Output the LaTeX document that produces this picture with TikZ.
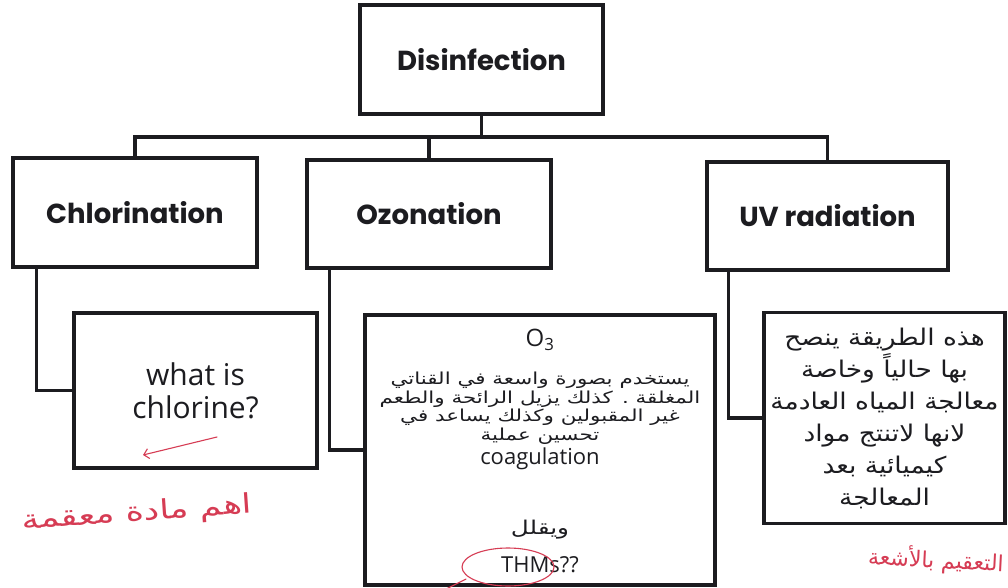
\documentclass[tikz,border=0pt]{standalone}
\usepackage{fontspec}
\setmainfont{Open Sans}
\newfontfamily\headfont{Poppins}
\newfontfamily\arabicfont[Script=Arabic]{DejaVu Sans}
\newfontfamily\arabicwide[Script=Arabic, FakeStretch=1.3]{DejaVu Sans}
\newfontfamily\arabicmid[Script=Arabic, FakeStretch=1.15]{DejaVu Sans}
\TeXXeTstate=1
\usetikzlibrary{arrows.meta}
\definecolor{annotc}{RGB}{214,60,84}
\definecolor{inkc}{RGB}{28,28,32}
\tikzset{
  frame/.style={draw=inkc, line width=3.2pt, inner sep=0pt, align=center},
  headbox/.style={frame, font=\headfont\bfseries\fontsize{27.5}{31}\selectfont, text=inkc},
  conn/.style={draw=inkc, line width=3.2pt},
  annot/.style={draw=annotc, line width=1.1pt, line cap=round},
  annottext/.style={text=annotc, inner sep=0pt},
  bodytext/.style={text=inkc, inner sep=0pt, align=center}
}
\begin{document}
\begin{tikzpicture}[x=1pt, y=-1pt]
\fill[white] (0,0) rectangle (1008,588);
\useasboundingbox (0,0) rectangle (1008,588);

% top level
\node[headbox, minimum width=243pt, minimum height=109pt] (dis) at (481.5,59.5) {Disinfection};
% second level
\node[headbox, minimum width=244pt, minimum height=109pt] (chl) at (135,212.5) {Chlorination};
\node[headbox, minimum width=244pt, minimum height=108pt] (ozo) at (429,214) {Ozonation};
\node[headbox, minimum width=241pt, minimum height=108pt] (uv) at (827.5,216) {UV radiation};
% third level
\node[frame, bodytext, minimum width=243pt, minimum height=155pt,
      font=\fontsize{30}{33}\selectfont] (wic) at (195.5,390.5) {what is\\chlorine?};
\node[frame, minimum width=350pt, minimum height=270pt] (o3b) at (540,450) {};
\node[frame, bodytext, minimum width=241pt, minimum height=211pt,
      font=\arabicmid\fontsize{23}{32}\selectfont] (uvt) at (884.5,418) {%
  \beginR هذه الطريقة ينصح\endR\\
  \beginR بها حالياً وخاصة\endR\\
  \beginR معالجة المياه العادمة\endR\\
  \beginR لانها لاتنتج مواد\endR\\
  \beginR كيميائية بعد\endR\\
  \beginR المعالجة\endR};

% texts inside the O3 box
\node[bodytext, font=\fontsize{24}{26}\selectfont] (o3t) at (540,340) {O\textsubscript{3}};
\node[bodytext, font=\arabicwide\fontsize{16.5}{18.5}\selectfont] (ozar) at (540,408) {%
  \beginR يستخدم بصورة واسعة في القناتي\endR\\
  \beginR المغلقة . كذلك يزيل الرائحة والطعم\endR\\
  \beginR غير المقبولين وكذلك يساعد في\endR\\
  \beginR تحسين عملية\endR};
\node[bodytext, font=\fontsize{22}{24}\selectfont] (coag) at (540,459) {coagulation};
\node[bodytext, font=\arabicwide\fontsize{19}{20}\selectfont] (wyql) at (540,530) {\beginR ويقلل\endR};
\node[bodytext, font=\fontsize{22}{24}\selectfont] (thms) at (540,565) {THMs??};

% connectors
\coordinate (bus) at (0,137);
\draw[conn] (chl.north) -- (chl.north |- bus) -- (uv.north |- bus) -- (uv.north);
\draw[conn] (dis.south) -- (dis.south |- bus);
\draw[conn] (ozo.north) -- (ozo.north |- bus);
\draw[conn] ([xshift=25pt]chl.south west) |- (wic.west);
\draw[conn] ([xshift=24pt]ozo.south west) |- (o3b.west);
\draw[conn] ([xshift=23pt]uv.south west) |- (uvt.west);

% handwritten annotations
\coordinate (arrS) at (217,437);
\coordinate (arrE) at (143,455);
\draw[annot, -{Straight Barb[length=5pt]}] (arrS) -- (arrE);
\node[annottext, rotate=4, font=\arabicwide\fontsize{27}{30}\selectfont] (hw1) at (137,514) {\beginR اهم مادة معقمة\endR};
\node[annottext, rotate=-3, font=\arabicfont\fontsize{22}{26}\selectfont] (hw2) at (936,560) {\beginR التعقيم بالأشعة\endR};
\draw[annot] (508,567) ellipse [x radius=46pt, y radius=19pt];
\coordinate (tailE) at (440,592);
\draw[annot] (466,579) -- (tailE);
\end{tikzpicture}
\end{document}
